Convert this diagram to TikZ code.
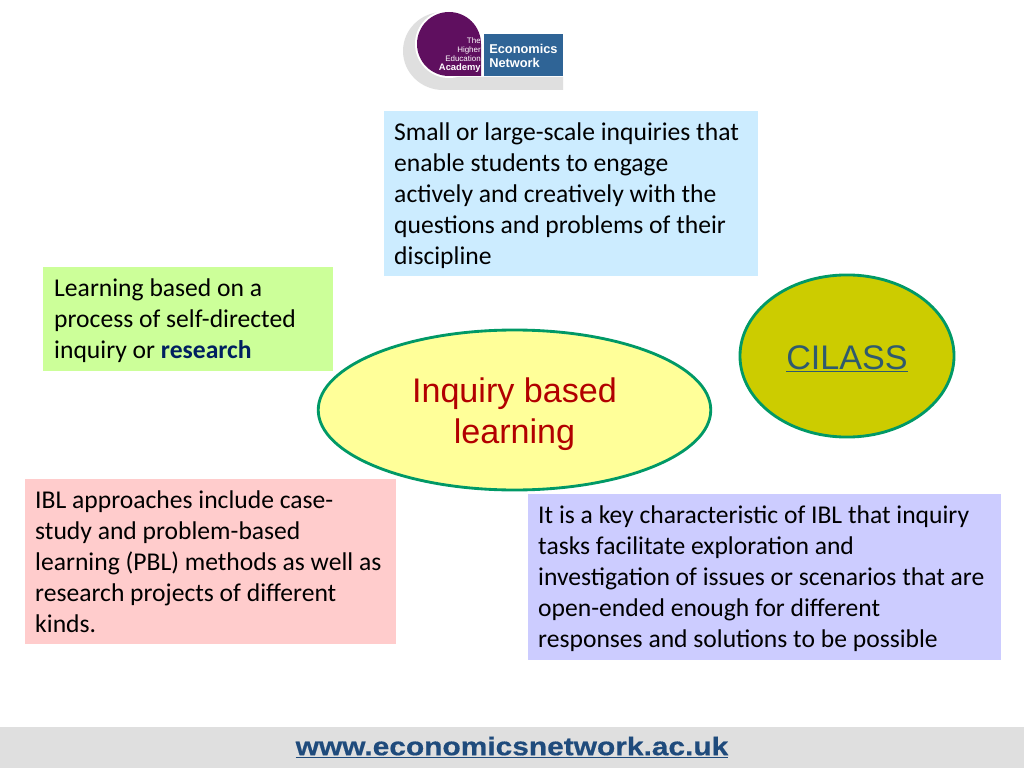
\documentclass[tikz,border=0pt]{standalone}
\usepackage{fontspec}
\usepackage{xcolor}
\setmainfont{Carlito}
\newfontfamily\arialfont{Liberation Sans}
\newfontfamily\urlfont[FakeStretch=1.168,FakeBold=0.5]{Liberation Sans}
\usetikzlibrary{shapes}
\definecolor{NetBlue}{HTML}{2F6496}
\definecolor{NetPurple}{HTML}{5F0F5F}
\definecolor{UrlBlue}{HTML}{1F4B7C}
\definecolor{ResearchBlue}{HTML}{002060}
\definecolor{CilassText}{HTML}{2F5A6E}
\definecolor{BoxBlue}{HTML}{CCECFF}
\definecolor{BoxGreen}{HTML}{CCFF99}
\definecolor{BoxPink}{HTML}{FFCCCC}
\definecolor{BoxLilac}{HTML}{CCCCFF}
\definecolor{OvalYellow}{HTML}{FFFF99}
\definecolor{OvalOlive}{HTML}{CCCC00}
\definecolor{RimGreen}{HTML}{009966}
\definecolor{FootGrey}{HTML}{DFDFDF}
\tikzset{
  textbox/.style={anchor=north west,align=flush left,inner xsep=7pt,inner ysep=0pt,
    font=\fontsize{18}{21.8}\selectfont,text=black},
  oval/.style={ellipse,draw=RimGreen,line width=2pt,inner sep=0pt},
  ovaltext/.style={inner sep=0pt,align=center,font=\arialfont\fontsize{24}{29}\selectfont},
}
\begin{document}
\begin{tikzpicture}[x=0.703125pt,y=-0.703125pt]
  \useasboundingbox (0,0) rectangle (1024,768);
  \fill[white] (0,0) rectangle (1024,768);
  % logo
  \fill[FootGrey] (563,90) -- (443,90) arc (90:270:40 and 39) -- (449,12) -- (449,77) -- (563,77) -- cycle;
  \fill[white] (449,44) circle (34);
  \fill[NetPurple] (481,76) -- (449,76) arc (90:360:32) -- cycle;
  \node[fill=NetBlue,minimum width=56.2pt,minimum height=29.5pt,inner sep=0pt] (logobox) at (523.5,55) {};
  \node[anchor=east,align=flush right,inner sep=0pt,text=white,font=\arialfont\fontsize{5.6}{6.2}\selectfont] (academy) at (481,55) {The\\Higher\\Education\\\fontsize{6.6}{6.2}\selectfont\textbf{Academy}};
  \node[anchor=west,align=flush left,inner sep=0pt,text=white,font=\arialfont\bfseries\fontsize{9}{9.6}\selectfont] (network) at (489,56) {Economics\\Network};
  % text boxes
  \fill[BoxBlue] (384,111) rectangle (758,276);
  \node[textbox,text width=360] (inquiries) at (384,122)
    {Small or large-scale inquiries that\\enable students to engage\\actively and creatively with the\\questions and problems of their\\discipline};
  \fill[BoxGreen] (43,267) rectangle (333,371);
  \node[textbox,text width=280] (process) at (44,278)
    {Learning based on a\\process of self-directed\\inquiry or \textcolor{ResearchBlue}{\textbf{research}}};
  \fill[BoxPink] (25,479) rectangle (396,644);
  \node[textbox,text width=360] (approaches) at (25,490)
    {IBL approaches include case-\\study and problem-based\\learning (PBL) methods as well as\\research projects of different\\kinds.};
  \fill[BoxLilac] (528,494) rectangle (1001,660);
  \node[textbox,text width=460] (tasks) at (528,505)
    {It is a key characteristic of IBL that inquiry\\tasks facilitate exploration and\\investigation of issues or scenarios that are\\open-ended enough for different\\responses and solutions to be possible};
  % ovals
  \node[oval,fill=OvalYellow,minimum width=276pt,minimum height=112.5pt] (ibl) at (514.5,410) {};
  \node[ovaltext,text=red!70!black] (ibllabel) at (514.5,414.5) {Inquiry based\\learning};
  \node[oval,fill=OvalOlive,minimum width=150.5pt,minimum height=114pt] (cilass) at (847,356) {};
  \node[ovaltext,text=CilassText] (cilasslabel) at (847,359) {\underline{CILASS}};
  % footer
  \fill[FootGrey] (0,727) rectangle (1024,768);
  \node[inner sep=0pt,text=UrlBlue,font=\urlfont\bfseries\fontsize{18}{22}\selectfont] (url) at (512,747.5) {\underline{www.economicsnetwork.ac.uk}};
\end{tikzpicture}
\end{document}
